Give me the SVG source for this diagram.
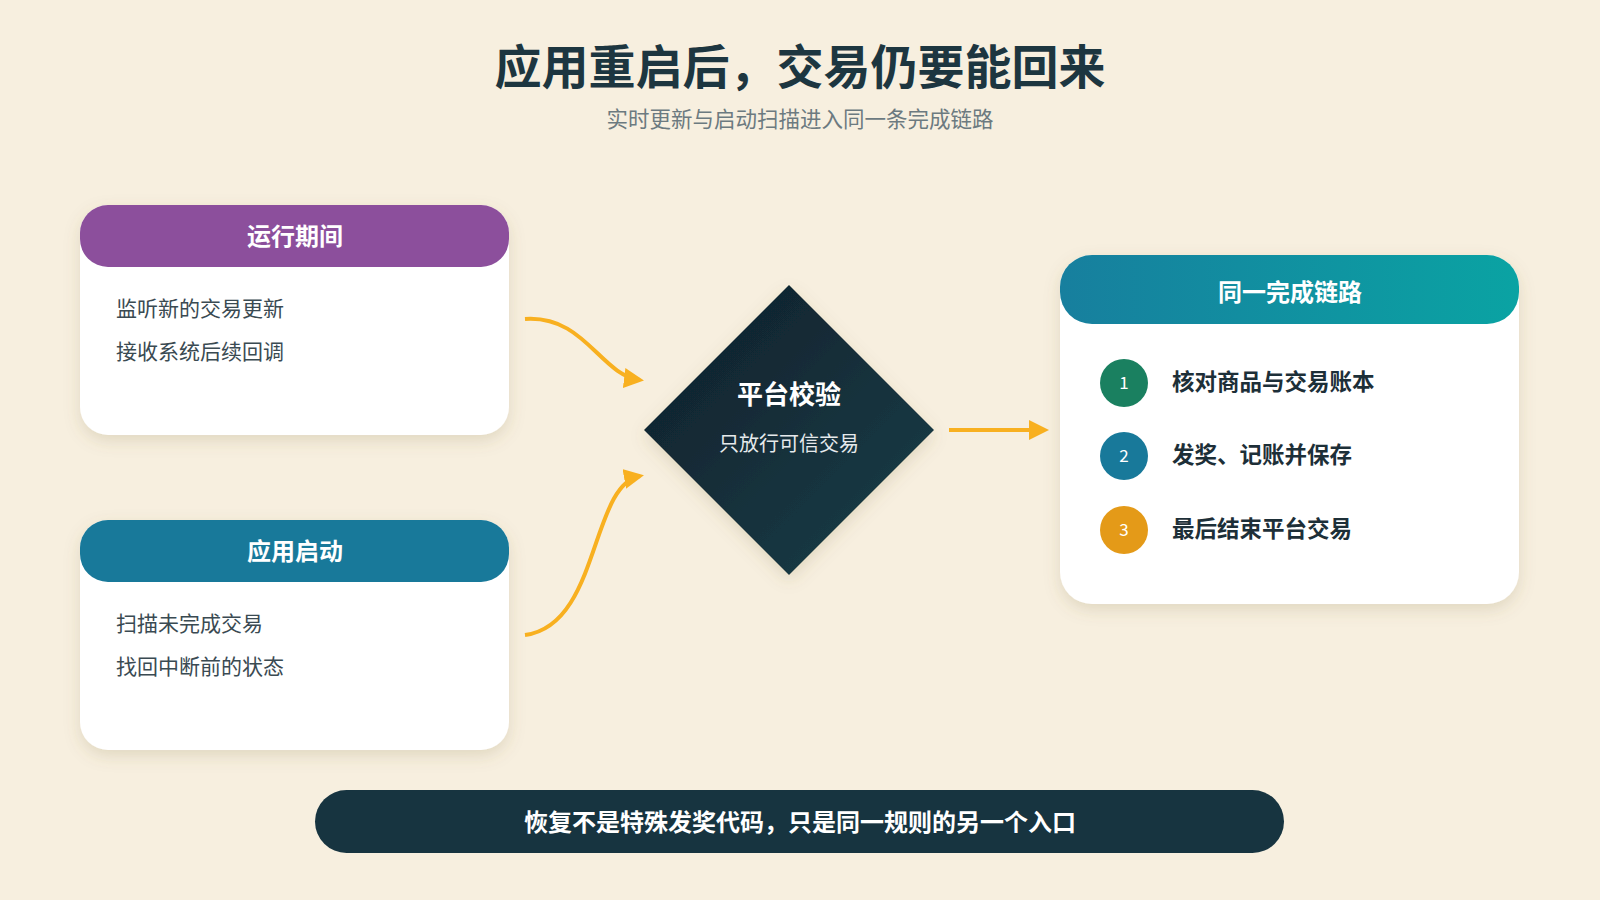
<svg xmlns="http://www.w3.org/2000/svg" width="1600" height="900" viewBox="0 0 1600 900">
<style>
text{font-family:"Noto Sans CJK SC","Noto Sans",sans-serif}
.card{fill:#fff;filter:url(#sh)}
.hd{fill:#fff;font-size:24px;font-weight:700;text-anchor:middle}
.it{fill:#3a4a52;font-size:21px}
.st{fill:#1d2f38;font-size:22.5px;font-weight:700}
.num{fill:#fff;font-size:17px;text-anchor:middle}
.arr{fill:none;stroke:#f8b020;stroke-width:4;marker-end:url(#ah)}
</style>
<defs>
<filter id="sh" x="-10%" y="-10%" width="120%" height="130%"><feDropShadow dx="0" dy="6" stdDeviation="8" flood-color="#7a6a40" flood-opacity="0.18"/></filter>
<marker id="ah" viewBox="0 0 10 10" refX="8" refY="5" markerWidth="5" markerHeight="5" orient="auto" markerUnits="strokeWidth"><path d="M0,0L10,5L0,10z" fill="#f8b020"/></marker>
<linearGradient id="tg" x1="0" x2="1"><stop offset="0" stop-color="#177f9e"/><stop offset="1" stop-color="#0aa3a3"/></linearGradient>
<linearGradient id="dg" x1="0" y1="0" x2="1" y2="1"><stop offset="0" stop-color="#0e1f2a"/><stop offset="1" stop-color="#1a3f4a"/></linearGradient>
</defs>
<rect width="1600" height="900" fill="#f7efdf"/>
<text x="800" y="84" text-anchor="middle" font-size="47" font-weight="700" fill="#1d3640">应用重启后，交易仍要能回来</text>
<text x="800" y="127" text-anchor="middle" font-size="21.5" fill="#6c7a80">实时更新与启动扫描进入同一条完成链路</text>
<g id="connectors">
<path class="arr" d="M525,319 C585,315 600,375 640,380"/>
<path class="arr" d="M525,635 C600,625 590,485 640,476"/>
<path class="arr" d="M949,430 L1045,430"/>
</g>
<g id="running">
<rect class="card" x="80" y="205" width="429" height="230" rx="28"/>
<rect x="80" y="205" width="429" height="62" rx="28" fill="#8c4f9c"/>
<text class="hd" x="295" y="245">运行期间</text>
<text class="it" x="116" y="316">监听新的交易更新</text>
<text class="it" x="116" y="359">接收系统后续回调</text>
</g>
<g id="startup">
<rect class="card" x="80" y="520" width="429" height="230" rx="28"/>
<rect x="80" y="520" width="429" height="62" rx="28" fill="#18799a"/>
<text class="hd" x="295" y="560">应用启动</text>
<text class="it" x="116" y="631">扫描未完成交易</text>
<text class="it" x="116" y="674">找回中断前的状态</text>
</g>
<g id="verify">
<path d="M789,285 L934,430 L789,575 L644,430 Z" fill="url(#dg)" filter="url(#sh)"/>
<text x="789" y="404" text-anchor="middle" font-size="26" font-weight="700" fill="#fff">平台校验</text>
<text x="789" y="451" text-anchor="middle" font-size="20" fill="#e6eaec">只放行可信交易</text>
</g>
<g id="chain">
<rect class="card" x="1060" y="255" width="459" height="349" rx="32"/>
<rect x="1060" y="255" width="459" height="69" rx="32" fill="url(#tg)"/>
<text class="hd" x="1290" y="301" font-size="26">同一完成链路</text>
<circle cx="1124" cy="383" r="24" fill="#1a8060"/><text class="num" x="1124" y="389">1</text>
<text class="st" x="1172" y="390">核对商品与交易账本</text>
<circle cx="1124" cy="456" r="24" fill="#18799a"/><text class="num" x="1124" y="462">2</text>
<text class="st" x="1172" y="463">发奖、记账并保存</text>
<circle cx="1124" cy="530" r="24" fill="#e49a18"/><text class="num" x="1124" y="536">3</text>
<text class="st" x="1172" y="537">最后结束平台交易</text>
</g>
<g id="footer">
<rect x="315" y="790" width="969" height="63" rx="31.5" fill="#173440"/>
<text x="800" y="831" text-anchor="middle" font-size="24" font-weight="700" fill="#fff">恢复不是特殊发奖代码，只是同一规则的另一个入口</text>
</g>
</svg>
